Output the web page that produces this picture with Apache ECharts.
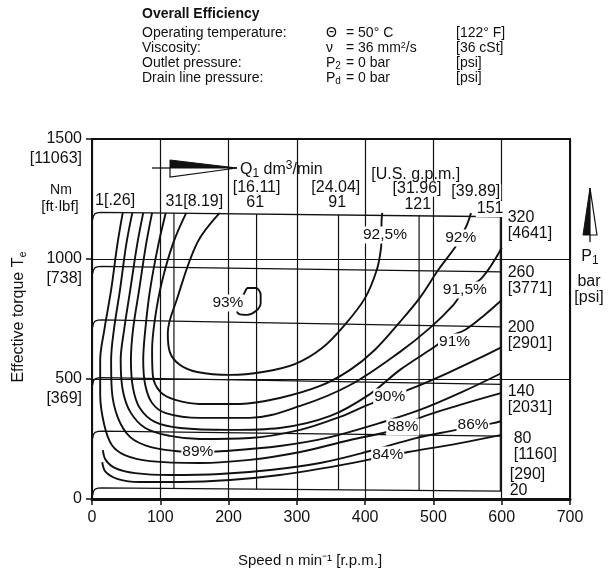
<!DOCTYPE html>
<html>
<head>
<meta charset="utf-8">
<script src="https://cdn.jsdelivr.net/npm/echarts@6/dist/echarts.min.js"></script>
<style>
  html, body { margin: 0; padding: 0; background: #fff; }
  #chart { width: 611px; height: 572px; }
</style>
</head>
<body>
<div id="chart"></div>
<script>
// ---- axes ----
const speedMax = 700;
const torqueMax = 1500;
const torqueFtLbf = { 1500: '11063', 1000: '738', 500: '369' };

// ---- constant inlet pressure lines p1 [bar], torque vs speed ----
const pressureBar = ['320', '260', '200', '140', '80', '20'];
const pressurePsi = ['4641', '3771', '2901', '2031', '1160', '290'];
const p320 = [[1, 1164], [2, 1179], [4.5, 1189], [9, 1193], [14, 1194], [600, 1176]];
const p260 = [[1, 939], [2, 954], [4.5, 964], [9, 968], [14, 969], [600, 946]];
const p200 = [[1, 716], [2, 731], [4.5, 741], [9, 745], [14, 746], [600, 717]];
const p140 = [[1, 476], [2, 491], [4.5, 501], [9, 505], [14, 506], [600, 478]];
const p80 = [[1, 253], [2, 268], [4.5, 278], [9, 282], [14, 283], [600, 262]];
const p20 = [[1, 16], [2, 31], [4.5, 41], [9, 45], [14, 46], [600, 33]];
const pressureLines = [p320, p260, p200, p140, p80, p20];

// ---- constant flow lines Q1 [dm3/min] with U.S. g.p.m. ----
const flowLpm = ['1', '31', '61', '91', '121', '151'];
const flowGpm = ['.26', '8.19', '16.11', '24.04', '31.96', '39.89'];
const flowSpeed = [4, 120, 241, 361, 479, 598];
const flowTop = [1194, 1191, 1187, 1183, 1180, 1176];
const flowBottom = [46, 44, 41, 38, 36, 33];

// ---- overall efficiency contours ----
const effLevels = ['93%', '92,5%', '92%', '91,5%', '91%', '90%', '89%', '88%', '86%', '84%'];
const eff93 = [[227, 879], [240, 879], [247, 850], [247, 817], [240, 783], [227, 767], [215, 771], [212, 796], [218, 829], [223, 858], [227, 879]];
const eff92_5 = [[187, 1192], [154, 1067], [124, 829], [111, 692], [114, 612], [129, 558], [154, 529], [202, 517], [250, 529], [297, 562], [337, 629], [370, 725], [400, 838], [417, 954], [423, 1040], [424, 1100], [424, 1154], [425, 1192]];
const eff92 = [[138, 1192], [119, 1067], [102, 900], [92, 746], [88, 621], [89, 517], [100, 446], [122, 413], [158, 396], [217, 396], [275, 421], [334, 471], [378, 538], [414, 621], [451, 738], [480, 838], [507, 954], [532, 1050], [541, 1096], [549, 1142], [555, 1192]];
const eff91_5 = [[108, 1192], [97, 1058], [85, 871], [78, 704], [75, 579], [78, 475], [88, 400], [108, 358], [158, 338], [231, 338], [305, 388], [378, 475], [451, 613], [495, 713], [529, 808], [546, 871], [571, 921], [600, 1046]];
const eff91 = [[88, 1192], [79, 1058], [69, 871], [60, 704], [57, 579], [60, 463], [70, 379], [92, 321], [129, 296], [202, 288], [275, 296], [349, 346], [407, 437], [451, 538], [499, 629], [522, 675], [546, 704], [575, 767], [600, 829]];
const eff90 = [[75, 1192], [66, 1058], [56, 871], [47, 704], [42, 579], [45, 454], [56, 363], [78, 296], [114, 263], [158, 250], [231, 254], [305, 288], [363, 342], [404, 392], [436, 425], [474, 467], [524, 529], [568, 588], [600, 633]];
const eff89 = [[59, 1192], [50, 1058], [41, 871], [32, 704], [28, 579], [29, 454], [38, 338], [56, 258], [85, 217], [122, 200], [155, 196], [195, 200], [275, 221], [349, 258], [422, 317], [480, 371], [539, 442], [600, 525]];
const eff88 = [[45, 1192], [37, 1058], [28, 871], [18, 704], [12, 579], [12, 433], [18, 308], [29, 225], [48, 183], [85, 158], [158, 150], [231, 163], [305, 196], [378, 246], [432, 279], [455, 300], [480, 338], [539, 392], [600, 442]];
const eff86 = [[16, 204], [20, 163], [34, 129], [63, 108], [114, 100], [187, 104], [261, 121], [334, 150], [407, 200], [476, 255], [534, 288], [558, 303], [586, 315], [600, 325]];
const eff84 = [[15, 154], [20, 113], [38, 83], [70, 71], [129, 71], [202, 79], [275, 100], [349, 133], [404, 163], [433, 181], [463, 196], [539, 233], [600, 267]];
const effCurves = [eff93, eff92_5, eff92, eff91_5, eff91, eff90, eff89, eff88, eff86, eff84];

// ---- styling ----
const FONT = '"Liberation Sans", Arial, Helvetica, sans-serif';
const INK = '#111';
const FS = 16;

const chart = echarts.init(document.getElementById('chart'), null, { renderer: 'canvas' });

function plainLine(data, width, z, extra) {
  return Object.assign({
    type: 'line', data: data, symbol: 'none', silent: true, animation: false,
    smooth: false, z: z, lineStyle: { color: INK, width: width }
  }, extra || {});
}

const textLabel = {
  show: true, position: 'inside', formatter: '{b}', color: INK,
  fontFamily: FONT, fontSize: FS, backgroundColor: '#fff',
  textBorderWidth: 0, textBorderColor: 'transparent', opacity: 1
};

const series = [];

// pressure lines with their bar / psi tags at the 600 rpm end
const tagOffsets = [[6, 9], [6, 9], [6, 9], [6, 15], [12, 10], [8, -8]];
pressureLines.forEach(function (pts, i) {
  const last = i === pressureLines.length - 1;
  series.push(plainLine(pts, 1.3, 2, {
    endLabel: {
      show: true,
      distance: 0,
      offset: tagOffsets[i],
      color: INK, fontFamily: FONT, fontSize: FS, lineHeight: 16,
      formatter: last
        ? '[' + pressurePsi[i] + ']\n' + pressureBar[i]
        : pressureBar[i] + '\n[' + pressurePsi[i] + ']'
    }
  }));
});

// constant flow lines (the 1 dm3/min one runs along the torque axis)
flowSpeed.forEach(function (n, i) {
  if (i === 0) return;
  series.push(plainLine([[n, flowBottom[i]], [n, flowTop[i]]], 1.2, 2));
});

// efficiency contours
effCurves.forEach(function (pts) {
  series.push(plainLine(pts, 1.9, 4, { smooth: 0.35 }));
});

// efficiency labels sitting on their contours
const effLabelAt = [[199, 817], [429, 1100], [540, 1088], [546, 871], [531, 654], [436, 425], [155, 196], [455, 300], [558, 308], [433, 183]];
series.push({
  type: 'scatter', silent: true, animation: false, z: 6, symbolSize: 0,
  itemStyle: { color: '#fff', opacity: 1 },
  data: effLevels.map(function (t, i) { return { value: effLabelAt[i], name: t }; }),
  label: Object.assign({}, textLabel, { fontSize: 15.5, padding: [1, 1, 0, 1] })
});

// flow tags above the 320 bar line
const flowTags = [
  { value: [3, 1242], text: flowLpm[0] + '[' + flowGpm[0] + ']', align: 'left' },
  { value: [106, 1238], text: flowLpm[1] + '[' + flowGpm[1] + ']', align: 'left' },
  { value: [241, 1296], text: '[' + flowGpm[2] + ']', align: 'center' },
  { value: [239, 1233], text: flowLpm[2], align: 'center' },
  { value: [357, 1296], text: '[' + flowGpm[3] + ']', align: 'center' },
  { value: [359, 1233], text: flowLpm[3], align: 'center' },
  { value: [476, 1293], text: '[' + flowGpm[4] + ']', align: 'center' },
  { value: [477, 1225], text: flowLpm[4], align: 'center' },
  { value: [562, 1279], text: '[' + flowGpm[5] + ']', align: 'center' },
  { value: [583, 1208], text: flowLpm[5], align: 'center' },
  { value: [474, 1352], text: '[U.S. g.p.m.]', align: 'center', bare: true }
];
series.push({
  type: 'scatter', silent: true, animation: false, z: 6, symbolSize: 0,
  itemStyle: { color: '#fff', opacity: 1 },
  data: flowTags.map(function (t) {
    const lab = { align: t.align };
    if (t.bare) lab.backgroundColor = 'transparent';
    return { value: t.value, name: t.text, label: lab };
  }),
  label: Object.assign({}, textLabel, { padding: [0, 1] })
});

const option = {
  animation: false,
  backgroundColor: '#fff',
  grid: { left: 92, top: 139, width: 478, height: 360, containLabel: false },
  xAxis: [{
    type: 'value', min: 0, max: speedMax, interval: 100,
    axisLine: { show: true, onZero: false, lineStyle: { color: INK, width: 3 } },
    axisTick: { show: true, length: 6, lineStyle: { color: INK, width: 1.5 } },
    axisLabel: { color: INK, fontFamily: FONT, fontSize: FS, margin: 11 },
    splitLine: { show: true, lineStyle: { color: INK, width: 1.2 } }
  }, {
    type: 'value', position: 'top', min: 0, max: speedMax,
    axisLine: { show: true, onZero: false, lineStyle: { color: INK, width: 2 } },
    axisTick: { show: false }, axisLabel: { show: false }, splitLine: { show: false }
  }],
  yAxis: [{
    type: 'value', min: 0, max: torqueMax, interval: 500,
    axisLine: { show: true, onZero: false, lineStyle: { color: INK, width: 2 } },
    axisTick: { show: true, length: 6, lineStyle: { color: INK, width: 1.5 } },
    axisLabel: {
      color: INK, fontFamily: FONT, fontSize: FS, margin: 10, align: 'right',
      formatter: function (v) {
        return v === 0 ? '{n|0}' : '{e|}\n{n|' + v + '}\n{n|[' + torqueFtLbf[v] + ']}';
      },
      rich: {
        e: { height: 20, lineHeight: 20 },
        n: { fontFamily: FONT, fontSize: FS, lineHeight: 20, color: INK, align: 'right' }
      }
    },
    splitLine: { show: true, lineStyle: { color: INK, width: 1.2 } }
  }, {
    type: 'value', position: 'right', min: 0, max: torqueMax,
    axisLine: { show: true, onZero: false, lineStyle: { color: INK, width: 2 } },
    axisTick: { show: false }, axisLabel: { show: false }, splitLine: { show: false }
  }],
  series: series,
  graphic: [
    // heading block
    { type: 'text', left: 142, top: 7, style: { text: 'Overall Efficiency', font: 'bold 14px ' + FONT, fill: INK } },
    { type: 'text', left: 142, top: 25, style: { text: 'Operating temperature:\nViscosity:\nOutlet pressure:\nDrain line pressure:', font: '14px ' + FONT, fill: INK, lineHeight: 15.3 } },
    { type: 'text', left: 326, top: 25, style: {
      text: 'Θ\nν\n{t|P}{s|2}\n{t|P}{s|d}', font: '14px ' + FONT, fill: INK, lineHeight: 15.3,
      rich: { t: { fontFamily: FONT, fontSize: 14, lineHeight: 15.3 }, s: { fontFamily: FONT, fontSize: 10, lineHeight: 15.3, padding: [6, 0, 0, 0] } } } },
    { type: 'text', left: 346, top: 25, style: {
      text: '= 50° C\n{t|= 36 mm}{u|2}{t|/s}\n= 0 bar\n= 0 bar', font: '14px ' + FONT, fill: INK, lineHeight: 15.3,
      rich: { t: { fontFamily: FONT, fontSize: 14, lineHeight: 15.3 }, u: { fontFamily: FONT, fontSize: 9, lineHeight: 15.3, padding: [0, 0, 5, 0] } } } },
    { type: 'text', left: 456, top: 25, style: { text: '[122° F]\n[36 cSt]\n[psi]\n[psi]', font: '14px ' + FONT, fill: INK, lineHeight: 15.3 } },

    // torque unit tag
    { type: 'text', x: 61, y: 190, style: { text: 'Nm', font: '14px ' + FONT, fill: INK, align: 'center', verticalAlign: 'middle' } },
    { type: 'text', x: 60, y: 207, style: { text: '[ft·lbf]', font: '15px ' + FONT, fill: INK, align: 'center', verticalAlign: 'middle' } },

    // axis titles
    { type: 'text', x: 19, y: 317, rotation: Math.PI / 2, style: {
      text: '{t|Effective torque T}{s|e}', align: 'center', verticalAlign: 'middle', fill: INK,
      rich: { t: { fontFamily: FONT, fontSize: 16, fill: INK }, s: { fontFamily: FONT, fontSize: 11, padding: [8, 0, 0, 0], fill: INK } } } },
    { type: 'text', x: 310, y: 561, style: { text: 'Speed n min⁻¹ [r.p.m.]', font: '15px ' + FONT, fill: INK, align: 'center', verticalAlign: 'middle' } },

    // flow direction arrow with Q1 tag (white patch keeps the grid lines out of the tag area)
    { type: 'rect', shape: { x: 150, y: 151, width: 90, height: 33 }, style: { fill: '#fff' } },
    { type: 'line', shape: { x1: 152, y1: 168, x2: 172, y2: 168 }, style: { stroke: INK, lineWidth: 1.3 } },
    { type: 'polygon', shape: { points: [[170, 160], [237, 168], [170, 168]] }, style: { fill: INK, stroke: INK, lineWidth: 1 } },
    { type: 'polygon', shape: { points: [[170, 168], [237, 168], [170, 177]] }, style: { fill: '#fff', stroke: INK, lineWidth: 1.2 } },
    { type: 'text', left: 240, top: 160, style: {
      text: '{t|Q}{s|1}{t| dm}{u|3}{t|/min}', fill: INK,
      rich: { t: { fontFamily: FONT, fontSize: 16, lineHeight: 18 }, s: { fontFamily: FONT, fontSize: 12, padding: [7, 0, 0, 0] }, u: { fontFamily: FONT, fontSize: 12, padding: [0, 0, 8, 0] } } } },

    // pressure direction arrow with p1 tag
    { type: 'polygon', shape: { points: [[590, 188], [583, 235], [590, 235]] }, style: { fill: INK, stroke: INK, lineWidth: 1 } },
    { type: 'polygon', shape: { points: [[590, 188], [597, 235], [590, 235]] }, style: { fill: '#fff', stroke: INK, lineWidth: 1.2 } },
    { type: 'line', shape: { x1: 590, y1: 235, x2: 590, y2: 242 }, style: { stroke: INK, lineWidth: 1.3 } },
    { type: 'text', x: 590, y: 257, style: {
      text: '{t|P}{s|1}', align: 'center', verticalAlign: 'middle', fill: INK,
      rich: { t: { fontFamily: FONT, fontSize: 16 }, s: { fontFamily: FONT, fontSize: 12, padding: [7, 0, 0, 0] } } } },
    { type: 'text', x: 589, y: 282, style: { text: 'bar', font: '16px ' + FONT, fill: INK, align: 'center', verticalAlign: 'middle' } },
    { type: 'text', x: 589, y: 298, style: { text: '[psi]', font: '16px ' + FONT, fill: INK, align: 'center', verticalAlign: 'middle' } }
  ]
};

chart.setOption(option);
</script>
</body>
</html>
